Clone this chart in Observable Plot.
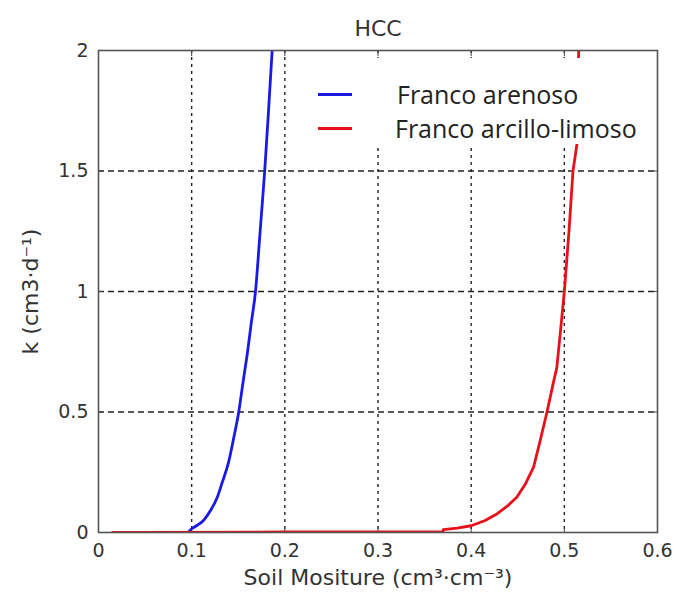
<!DOCTYPE html>
<html>
<head>
<meta charset="utf-8">
<script src="https://cdn.jsdelivr.net/npm/d3@7"></script>
<script src="https://cdn.jsdelivr.net/npm/@observablehq/plot@0.6"></script>
<style>
  html, body { margin: 0; padding: 0; background: #fff; }
  #wrap { position: relative; width: 679px; height: 611px; }
  #legend { position: absolute; left: 302px; top: 58px; width: 352px; height: 86px; background: #fff;
            font-family: "Open Sans", "Noto Sans", sans-serif; font-size: 25px; color: #222; }
  .row { position: absolute; left: 0; height: 30px; display: flex; align-items: center; white-space: nowrap; }
  .sw { display: inline-block; width: 34px; height: 3px; margin-left: 16px; margin-right: 45px; }
</style>
</head>
<body>
<div id="wrap"></div>
<script>
// Series names
const seriesNames = ["Franco arenoso", "Franco arcillo-limoso"];
const seriesColors = ["#1a1ae6", "#e8101a"];

// Franco arenoso (blue): soil moisture vs k
const blueX = [0.045, 0.080, 0.095, 0.1005, 0.106, 0.1127, 0.120, 0.1274, 0.133, 0.1395, 0.145, 0.1505, 0.155, 0.160, 0.164, 0.1685, 0.1735, 0.1784, 0.1825, 0.1864];
const blueK = [0.000, 0.000, 0.000, 0.017, 0.030, 0.050, 0.090, 0.145, 0.210, 0.290, 0.390, 0.500, 0.620, 0.750, 0.870, 1.000, 1.250, 1.500, 1.750, 2.000];

// Franco arcillo-limoso (red)
const redX = [0.015, 0.045, 0.200, 0.370, 0.370, 0.385, 0.400, 0.415, 0.428, 0.439, 0.449, 0.458, 0.467, 0.474, 0.4814, 0.487, 0.492, 0.497, 0.500, 0.505, 0.5093, 0.5136, 0.5154];
const redK = [0.000, 0.000, 0.002, 0.004, 0.012, 0.018, 0.028, 0.050, 0.078, 0.110, 0.146, 0.200, 0.271, 0.380, 0.500, 0.600, 0.686, 0.880, 1.000, 1.250, 1.500, 1.613, 2.000];

// Axis ticks
const xTicks = [0, 0.1, 0.2, 0.3, 0.4, 0.5, 0.6];
const xTickLabels = ["0", "0.1", "0.2", "0.3", "0.4", "0.5", "0.6"];
const yTicks = [0, 0.5, 1, 1.5, 2];
const yTickLabels = ["0", "0.5", "1", "1.5", "2"];

const title = "HCC";
const xLabel = "Soil Mositure (cm³·cm⁻³)";
const yLabel = "k (cm3·d⁻¹)";

const blue = blueX.map((x, i) => ({x, k: blueK[i], s: seriesNames[0]}));
const red = redX.map((x, i) => ({x, k: redK[i], s: seriesNames[1]}));

const font = "'DejaVu Sans', sans-serif";

const chart = Plot.plot({
  width: 679,
  height: 611,
  marginTop: 50,
  marginRight: 22,
  marginBottom: 79,
  marginLeft: 98,
  style: {fontFamily: font, fontSize: "19px", color: "#333", background: "#fff"},
  x: {domain: [0, 0.6]},
  y: {domain: [0, 2]},
  marks: [
    Plot.gridX(xTicks.slice(1, -1), {stroke: "#222", strokeOpacity: 1, strokeDasharray: "3,4", strokeWidth: 1.4}),
    Plot.gridY(yTicks.slice(1, -1), {stroke: "#222", strokeOpacity: 1, strokeDasharray: "6,4", strokeWidth: 1.4}),
    Plot.axisX(xTicks, {anchor: "bottom", tickSize: -5, tickPadding: 16, tickFormat: (d, i) => xTickLabels[i], label: null, fontSize: 19, fill: "#333", stroke: "#444"}),
    Plot.axisX(xTicks, {anchor: "top", tickSize: -5, tickFormat: () => "", label: null, stroke: "#444"}),
    Plot.axisY(yTicks, {anchor: "left", tickSize: -5, tickPadding: 15, tickFormat: (d, i) => yTickLabels[i], label: null, fontSize: 19, fill: "#333", stroke: "#444"}),
    Plot.axisY(yTicks, {anchor: "right", tickSize: -5, tickFormat: () => "", label: null, stroke: "#444"}),
    Plot.line(blue, {x: "x", y: "k", stroke: seriesColors[0], strokeWidth: 2.8, clip: true, curve: "monotone-x"}),
    Plot.line(red, {x: "x", y: "k", stroke: seriesColors[1], strokeWidth: 2.8, clip: true}),
    Plot.frame({stroke: "#555", strokeWidth: 1.6}),
    Plot.text([title], {frameAnchor: "top", dy: -30, fontSize: 22, fill: "#333", text: d => d}),
    Plot.text([xLabel], {frameAnchor: "bottom", dy: 52, fontSize: 22, fill: "#333", text: d => d}),
    Plot.text([yLabel], {frameAnchor: "left", textAnchor: "middle", dx: -68, rotate: -90, fontSize: 22, fill: "#333", text: d => d})
  ]
});

const wrap = document.getElementById("wrap");
wrap.appendChild(chart);

const legend = document.createElement("div");
legend.id = "legend";
seriesNames.forEach((name, i) => {
  const row = document.createElement("div");
  row.className = "row";
  row.style.top = (21 + i * 34) + "px";
  const sw = document.createElement("span");
  sw.className = "sw";
  sw.style.background = seriesColors[i];
  if (i === 1) sw.style.marginRight = "43px";
  const t = document.createElement("span");
  t.textContent = name;
  row.appendChild(sw);
  row.appendChild(t);
  legend.appendChild(row);
});
wrap.appendChild(legend);
</script>
</body>
</html>
